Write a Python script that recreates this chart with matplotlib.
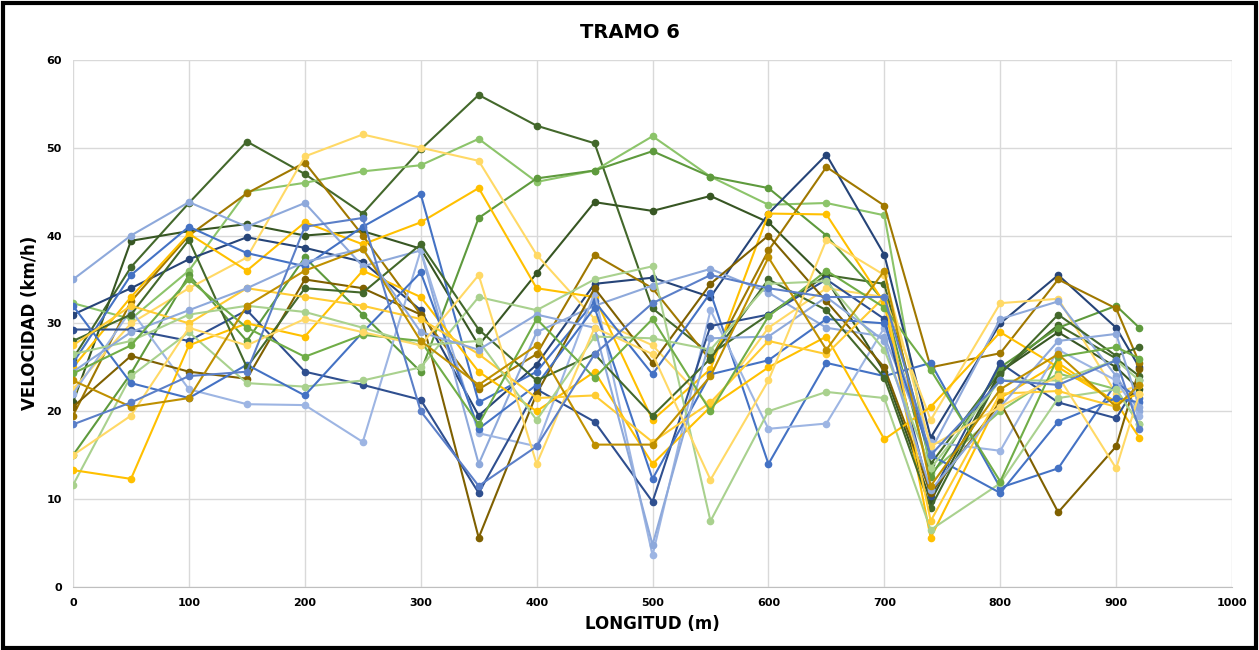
import matplotlib
matplotlib.use("Agg")
import matplotlib.pyplot as plt
from matplotlib.patches import Rectangle

# distance along the section (m)
longitud = [0, 50, 100, 150, 200, 250, 300, 350, 400, 450, 500, 550, 600, 650, 700, 740, 800, 850, 900, 920]

# speed runs (km/h), one list per run
v01 = [26, 36.4, 43.7, 50.7, 47, 42.5, 49.8, 56, 52.5, 50.5, 31.7, 26.5, 31, 35.5, 34.5, 14, 24.5, 29.8, 26, 24]
v02 = [21, 39.4, 40.5, 41.3, 40, 40.5, 38.5, 27.5, 35.7, 43.8, 42.8, 44.5, 41.5, 35, 24.5, 9.8, 24.5, 29, 25, 22.5]
v03 = [32.3, 30.5, 36, 45, 46, 47.3, 48, 51, 46.1, 47.4, 51.3, 46.7, 43.5, 43.7, 42.3, 13, 20, 24.3, 22.5, 18.5]
v04 = [15, 24.3, 35.5, 28, 37.5, 31, 24.5, 42, 46.5, 47.4, 49.6, 46.7, 45.4, 40, 32.5, 12.5, 25, 29.5, 32, 29.5]
v05 = [31, 34, 37.3, 39.8, 38.6, 37, 31.5, 19.5, 25.3, 34.5, 35.2, 33, 42.5, 49.2, 37.8, 17, 30, 35.5, 29.5, 25]
v06 = [19.5, 32.5, 40, 44.8, 48.3, 40, 31, 22.5, 26.5, 37.8, 34, 25.8, 38.3, 47.8, 43.4, 25, 26.6, 35, 31.7, 25.5]
v07 = [22.5, 30, 34, 37.5, 49, 51.5, 50, 48.5, 37.8, 30.5, 27.5, 20.5, 29.5, 34, 33, 19, 32.3, 32.8, 22, 23]
v08 = [25, 33, 40.2, 36, 41.5, 39, 41.5, 45.4, 34, 33, 19, 24.8, 42.5, 42.4, 32.3, 5.6, 21.5, 25.5, 21, 17]
v09 = [35, 40, 43.8, 41, 43.7, 36.5, 38.3, 14, 29, 32, 34.3, 36.2, 33.5, 29.5, 28.5, 15.5, 30.5, 32.5, 24, 20]
v10 = [25.5, 35.5, 41, 38, 36.5, 41, 44.7, 21, 24.5, 32.5, 24.2, 33.5, 14, 25.5, 24, 25.5, 11.3, 13.5, 23.2, 21.5]
v11 = [22, 31.5, 22.5, 20.8, 20.7, 16.5, 38.3, 17.5, 16, 33.5, 3.6, 31.5, 18, 18.6, 29.5, 16.5, 15.5, 27, 23.5, 19.5]
v12 = [29.3, 29.3, 28, 31.5, 24.5, 23, 21.3, 10.7, 22.5, 18.8, 9.7, 29.7, 31, 35, 30.5, 10.3, 25.5, 21, 19.2, 23.5]
v13 = [20.5, 26.3, 24.5, 23.7, 35, 34, 31, 5.6, 22, 34, 25.5, 34.5, 40, 32.5, 25, 10.7, 21, 8.5, 16, 24.8]
v14 = [11.6, 24, 29, 23.2, 22.8, 23.5, 25, 33, 31.5, 35, 36.5, 7.5, 20, 22.2, 21.5, 6.5, 11.8, 21.5, 22.5, 18.5]
v15 = [13.3, 12.3, 27.5, 30, 28.5, 36, 33, 24.5, 20, 24.5, 14, 20.5, 25, 28.5, 16.8, 20.5, 29, 25, 21, 22]
v16 = [32, 23.2, 21.5, 25.3, 21.8, 29, 35.8, 18, 23, 31.8, 12.3, 24.2, 25.8, 30.5, 30, 15, 10.7, 18.8, 21.5, 21]
v17 = [28, 31, 39.5, 25, 34, 33.5, 39, 29.3, 23.5, 26.5, 19.5, 26, 35, 31.5, 23.8, 9, 24.2, 31, 26.3, 27.3]
v18 = [27.5, 32, 30, 34, 33, 32, 30.5, 26.5, 21.5, 21.8, 16.5, 21, 28, 26.5, 33, 7.5, 22, 22.3, 20.5, 23]
v19 = [26.5, 28, 31, 32, 31.3, 29.5, 27.5, 28, 19, 28.5, 28.3, 27, 34.5, 34.8, 27, 13.5, 23.5, 23.5, 25.8, 23.5]
v20 = [24.5, 29, 31.5, 34, 37, 38.5, 29, 27, 31, 29.5, 4.8, 28.3, 28.5, 33, 28, 11, 20.5, 28, 28.8, 20.5]
v21 = [24.3, 27.5, 35, 29.5, 26.2, 28.7, 28, 18.5, 30.5, 23.8, 30.5, 20, 30.8, 36, 31.8, 24.7, 12, 26.2, 27.3, 26]
v22 = [15, 19.5, 29.5, 27.5, 30.5, 29, 27.5, 35.5, 14, 29.5, 26.5, 12.2, 23.5, 39.5, 35.5, 16, 20.5, 24, 13.5, 22]
v23 = [23.5, 20.5, 21.5, 32, 36, 38.5, 28, 23, 27.5, 16.2, 16.2, 24, 37.5, 27, 36, 11.5, 22.5, 26.5, 20.5, 23]
v24 = [18.5, 21, 24, 24.5, 41, 42, 20, 11.5, 16, 26.5, 32.3, 35.5, 34, 33, 33, 15, 23.5, 23, 25.8, 18]

runs = [v01, v02, v03, v04, v05, v06, v07, v08, v09, v10, v11, v12,
        v13, v14, v15, v16, v17, v18, v19, v20, v21, v22, v23, v24]

colores = ["#43682B", "#375623", "#8CC46A", "#5E9A3D", "#264478", "#A07800",
           "#FFD966", "#FFC000", "#8EA9DB", "#4472C4", "#9DB5E3", "#2F4F8F",
           "#7F6000", "#A9D18E", "#FFC000", "#4472C4", "#43682B", "#FFCC33",
           "#A9D18E", "#8EA9DB", "#70AD47", "#FFD966", "#BF9000", "#5B7FC8"]

fig = plt.figure(figsize=(12.59, 6.5), dpi=100)
ax = fig.add_axes([0.058, 0.097, 0.9206, 0.811])

for vals, c in zip(runs, colores):
    ax.plot(longitud, vals, color=c, linewidth=1.5, marker="o", markersize=4.5)

ax.set_xlim(0, 1000)
ax.set_ylim(0, 60)
ax.set_xticks(range(0, 1001, 100))
ax.set_yticks(range(0, 61, 10))
ax.grid(True, color="#D9D9D9", linewidth=1)
ax.set_axisbelow(True)
for s in ["top", "right", "left"]:
    ax.spines[s].set_visible(False)
ax.spines["bottom"].set_color("#BFBFBF")
ax.tick_params(length=0, labelsize=8, pad=8)
for lab in ax.get_xticklabels() + ax.get_yticklabels():
    lab.set_fontweight("bold")

ax.set_xlabel("LONGITUD (m)", fontsize=12, fontweight="bold", labelpad=5)
ax.set_ylabel("VELOCIDAD (km/h)", fontsize=12, fontweight="bold", labelpad=5)
fig.text(0.5, 0.95, "TRAMO 6", ha="center", va="center", fontsize=14, fontweight="bold")

# black frame around the picture
fig.patches.append(Rectangle((0.002, 0.003), 0.996, 0.993, transform=fig.transFigure,
                             fill=False, edgecolor="black", linewidth=3))

fig.savefig("out.png", dpi=100)
